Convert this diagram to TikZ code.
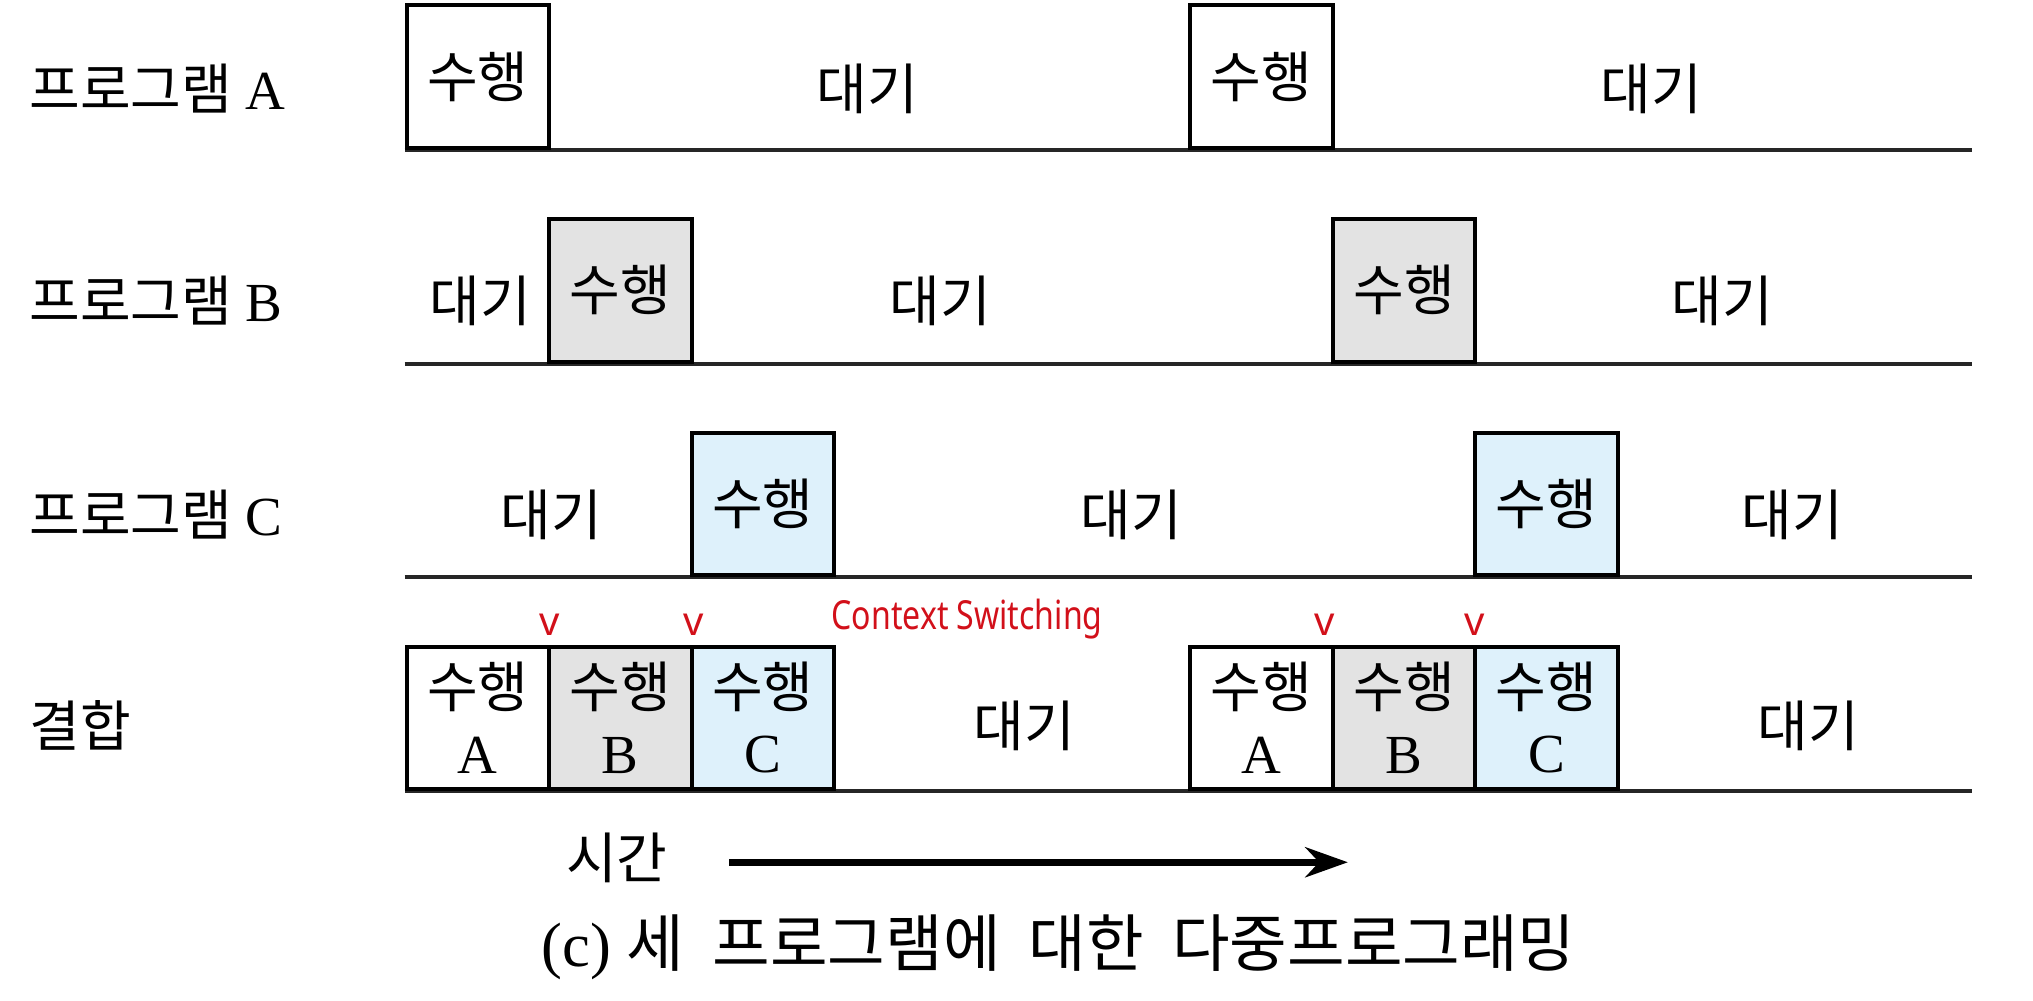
\documentclass[tikz,border=0pt]{standalone}
\usepackage{fontspec}
\setmainfont{Liberation Serif}
\newfontfamily\kr{Noto Sans CJK KR}
\newfontfamily\hand{Noto Sans}
\usetikzlibrary{arrows.meta}
\definecolor{rungray}{HTML}{E3E3E3}
\definecolor{runblue}{HTML}{DEF1FB}
\definecolor{markred}{HTML}{D2101A}
\tikzset{
	runbox/.style={draw, line width=0.8pt, minimum width=1cm, minimum height=1cm, inner sep=0pt, anchor=south west, align=center, font=\fontsize{11}{13}\selectfont},
	waitlabel/.style={font=\kr\fontsize{11}{13}\selectfont},
	rowlabel/.style={anchor=west, inner sep=0pt, font=\fontsize{11}{13}\selectfont},
	rowline/.style={line width=0.8pt, color=black!85},
	switchmark/.style={text=markred, inner sep=0pt, font=\hand\fontsize{8}{8}\selectfont},
	timearrow/.style={line width=1.4pt, -{Stealth[length=8.5pt, width=6pt]}}
}
\def\runtext#1{{\kr 수행}\\#1}

\begin{document}
\begin{tikzpicture}
		%%%%% START %%%%%
		\useasboundingbox (-2.839,-1.467) rectangle (11.428,5.551);
		
		% program A
		\node[rowlabel] (labA) at (-2.64, 4.93) {{\kr 프로그램} A};
		\draw[rowline] (0, 4.5) -- (11, 4.5);
		\node[runbox, fill=white] (runA1) at (0, 4.5) {\kr 수행};
		\node[runbox, fill=white] (runA2) at (5.5, 4.5) {\kr 수행};
		\node[waitlabel] (waitA1) at (3.25, 4.93) {대기};
		\node[waitlabel] (waitA2) at (8.75, 4.93) {대기};
		
		% program B
		\node[rowlabel] (labB) at (-2.64, 3.44) {{\kr 프로그램} B};
		\draw[rowline] (0, 3) -- (11, 3);
		\node[runbox, fill=rungray] (runB1) at (1, 3) {\kr 수행};
		\node[runbox, fill=rungray] (runB2) at (6.5, 3) {\kr 수행};
		\node[waitlabel] (waitB1) at (0.53, 3.44) {대기};
		\node[waitlabel] (waitB2) at (3.76, 3.44) {대기};
		\node[waitlabel] (waitB3) at (9.25, 3.44) {대기};
		
		% program C
		\node[rowlabel] (labC) at (-2.64, 1.94) {{\kr 프로그램} C};
		\draw[rowline] (0, 1.5) -- (11, 1.5);
		\node[runbox, fill=runblue] (runC1) at (2, 1.5) {\kr 수행};
		\node[runbox, fill=runblue] (runC2) at (7.5, 1.5) {\kr 수행};
		\node[waitlabel] (waitC1) at (1.03, 1.94) {대기};
		\node[waitlabel] (waitC2) at (5.1, 1.94) {대기};
		\node[waitlabel] (waitC3) at (9.74, 1.94) {대기};
		
		% combined
		\node[rowlabel] (labAll) at (-2.64, 0.46) {\kr 결합};
		\draw[rowline] (0, 0) -- (11, 0);
		\node[runbox, fill=white] (allA1) at (0, 0) {\runtext{A}};
		\node[runbox, fill=rungray] (allB1) at (1, 0) {\runtext{B}};
		\node[runbox, fill=runblue] (allC1) at (2, 0) {\runtext{C}};
		\node[runbox, fill=white] (allA2) at (5.5, 0) {\runtext{A}};
		\node[runbox, fill=rungray] (allB2) at (6.5, 0) {\runtext{B}};
		\node[runbox, fill=runblue] (allC2) at (7.5, 0) {\runtext{C}};
		\node[waitlabel] (waitAll1) at (4.35, 0.46) {대기};
		\node[waitlabel] (waitAll2) at (9.85, 0.46) {대기};
		
		% context switching marks
		\node[switchmark] (sw1) at (1.02, 1.165) {v};
		\node[switchmark] (sw2) at (2.03, 1.165) {v};
		\node[switchmark] (sw3) at (6.46, 1.165) {v};
		\node[switchmark] (sw4) at (7.51, 1.165) {v};
		\node[switchmark, anchor=west] (ctx) at (2.99, 1.21) {\scalebox{0.8}[1]{Context Switching}};
		
		% time axis
		\node[waitlabel] (time) at (1.49, -0.47) {시간};
		\coordinate (tstart) at (2.28, -0.5);
		\coordinate (tend) at (6.62, -0.5);
		\draw[timearrow] (tstart) -- (tend);
		
		\node[font=\fontsize{12.5}{14}\selectfont] (caption) at (4.59, -1.1) {(c) {\kr\spaceskip=0.45em 세 프로그램에 대한 다중프로그래밍}};
		
		%%%%% END %%%%%
	\end{tikzpicture}
\end{document}
